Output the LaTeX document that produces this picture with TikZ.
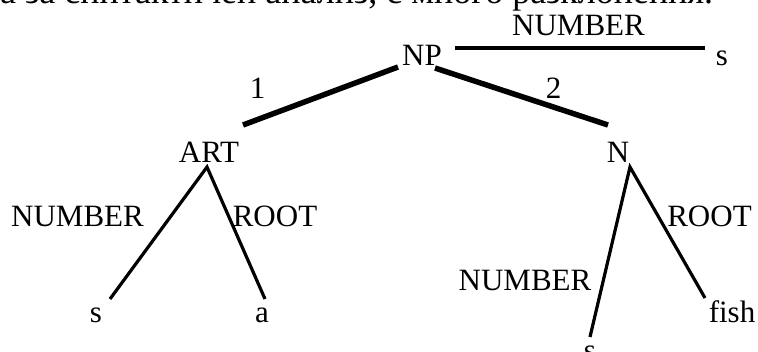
\documentclass[tikz,border=0pt]{standalone}
\usepackage{fontspec}
\setmainfont{Liberation Serif}
\begin{document}
\begin{tikzpicture}[x=1pt,y=-1pt,
  lbl/.style={inner sep=0pt,anchor=base,font=\fontsize{31}{31}\selectfont},
  thickedge/.style={line width=5.5pt},
  thinedge/.style={line width=3.2pt}]
\useasboundingbox (0,0) rectangle (758,351);
% running text above the figure
\node[lbl,anchor=base west,font=\fontsize{36}{36}\selectfont] (caption) at (0,3) {а за синтактичен анализ, с много разклонения.};
% feature structure nodes
\node[lbl] (np) at (422,65) {NP};
\node[lbl] (art) at (209,162) {ART};
\node[lbl] (n) at (618,162) {N};
\node[lbl] (s0) at (722,65) {s};
\node[lbl] (s1) at (96,322) {s};
\node[lbl] (a) at (262,322) {a};
\node[lbl] (s2) at (590,360) {s};
\node[lbl] (fish) at (732,322) {fish};
% attachment points of the arcs
\coordinate (np-l) at (398,67);
\coordinate (np-r) at (435,68);
\coordinate (np-e) at (455,48);
\coordinate (art-t) at (243,125);
\coordinate (n-t) at (608,125);
\coordinate (s0-w) at (705,48);
\coordinate (art-b) at (207,167);
\coordinate (s1-t) at (110,299);
\coordinate (a-t) at (265,299);
\coordinate (n-b) at (630,167);
\coordinate (s2-t) at (590,337);
\coordinate (fish-t) at (705,298);
% arcs
\draw[thickedge] (np-l) -- (art-t);
\draw[thickedge] (np-r) -- (n-t);
\draw[thinedge] (np-e) -- (s0-w);
\draw[thinedge] (s1-t) -- (art-b) -- (a-t);
\draw[thinedge] (s2-t) -- (n-b) -- (fish-t);
% arc labels
\node[lbl] (l1) at (257.5,98) {1};
\node[lbl] (l2) at (553.5,98) {2};
\node[lbl] (lnum0) at (578.5,35) {NUMBER};
\node[lbl] (lnum1) at (77.5,226) {NUMBER};
\node[lbl] (lroot1) at (275,226) {ROOT};
\node[lbl] (lnum2) at (525,290) {NUMBER};
\node[lbl] (lroot2) at (709.5,226) {ROOT};
\end{tikzpicture}
\end{document}
